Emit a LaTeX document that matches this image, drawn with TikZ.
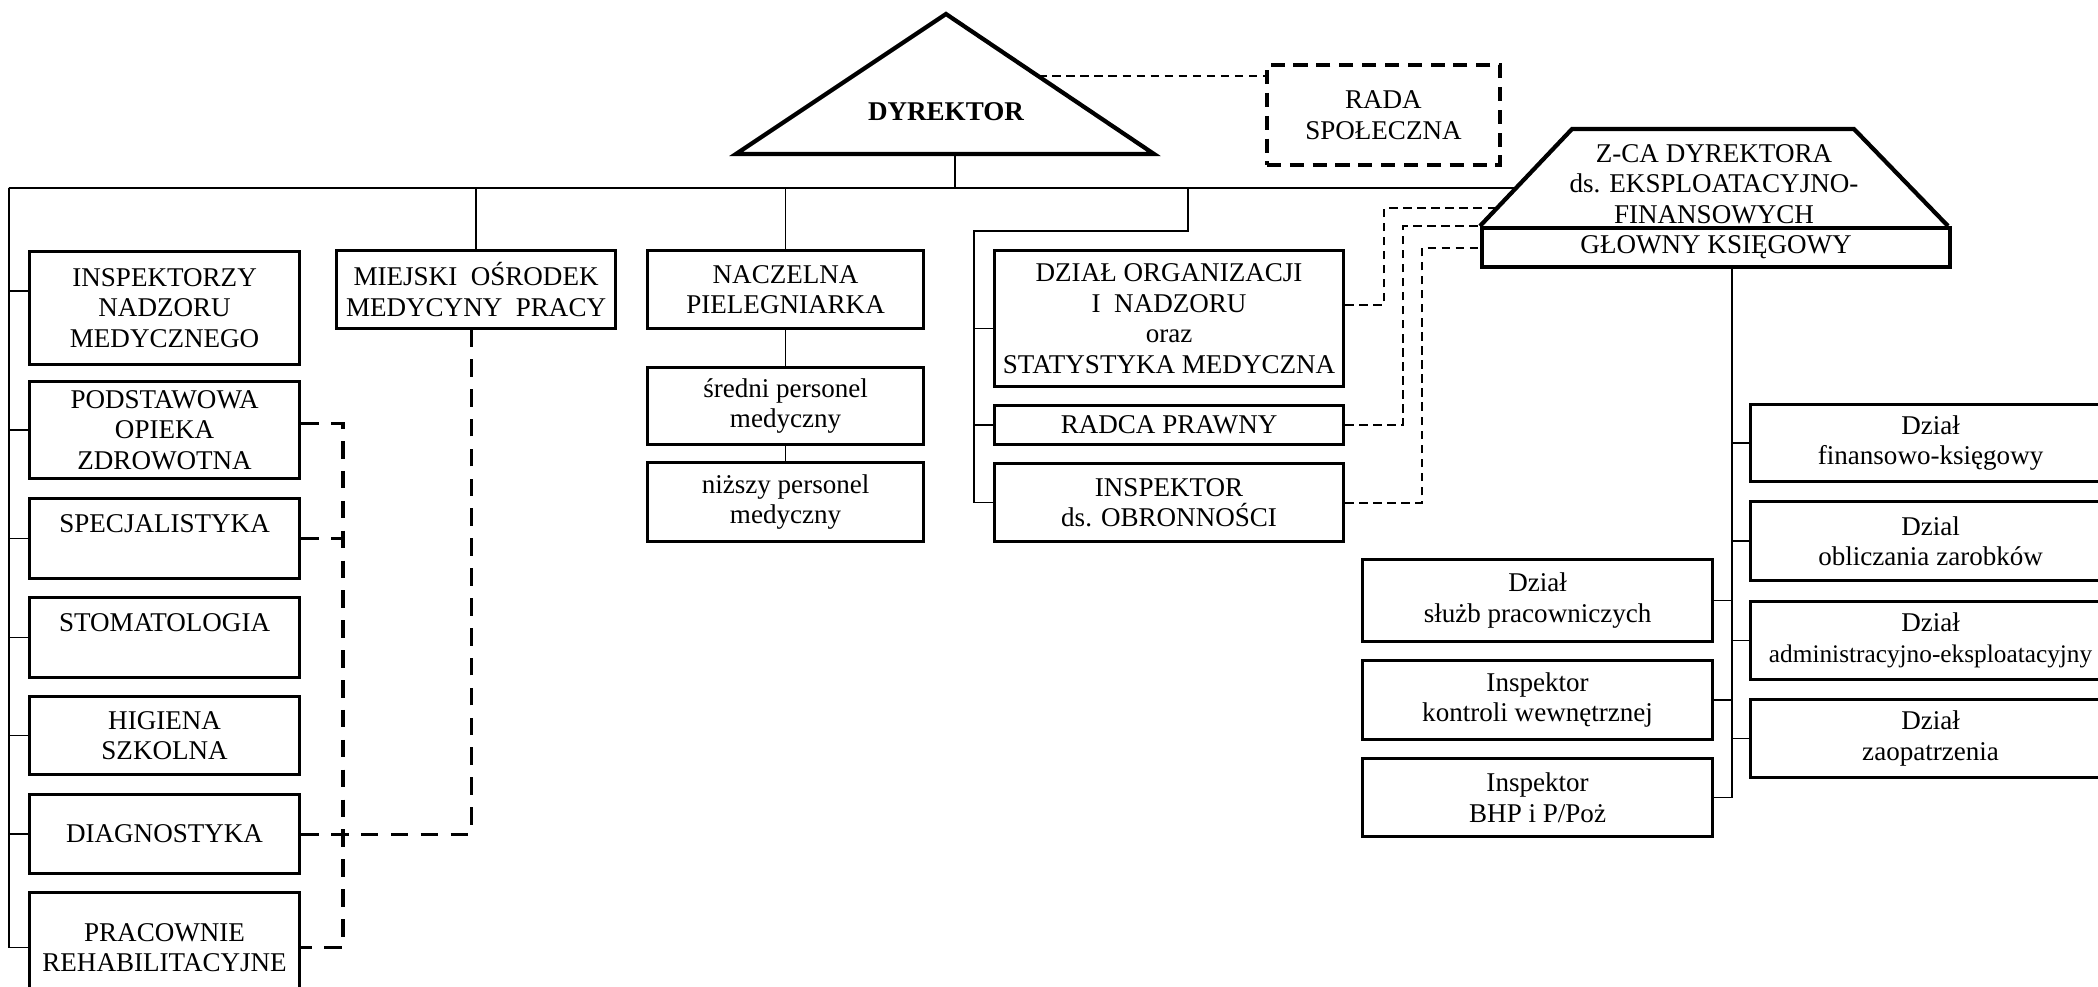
\documentclass[tikz,border=0pt]{standalone}
\usepackage{fontspec}
\setmainfont{Liberation Serif}
\usetikzlibrary{calc}

\begin{document}
\begin{tikzpicture}[
    font=\fontsize{7.7pt}{8.7pt}\selectfont,
    box/.style={draw, line width=0.9pt, align=center, anchor=north west, inner sep=1pt},
    heavy/.style={line width=1.2pt, line join=miter},
    conn/.style={line width=0.45pt},
    ldash/.style={line width=0.9pt, dash pattern=on 5pt off 3.5pt},
    rdash/.style={line width=0.6pt, dash pattern=on 2.4pt off 1.6pt},
    radabox/.style={box, line width=1.1pt, dash pattern=on 4pt off 2.5pt},
]
    \useasboundingbox (0,0) rectangle (20.98,-9.86);

    % Director
    \coordinate (dtop) at (9.46,-0.14);
    \coordinate (dleft) at (7.36,-1.54);
    \coordinate (dright) at (11.54,-1.54);
    \draw[heavy] (dtop) -- (dleft) -- (dright) -- cycle;
    \node[font=\fontsize{7.7pt}{8.7pt}\selectfont\bfseries] (dyr) at (9.46,-1.12) {DYREKTOR};
    \node[radabox, minimum width=2.33cm, minimum height=1.00cm] (rada) at (12.65,-0.63) {RADA\\SPOŁECZNA};

    % Deputy director
    \coordinate (zbl) at (14.80,-2.26);
    \coordinate (ztl) at (15.72,-1.29);
    \coordinate (ztr) at (18.54,-1.29);
    \coordinate (zbr) at (19.48,-2.26);
    \draw[heavy] (zbl) -- (ztl) -- (ztr) -- (zbr);
    \node (zca) at (17.14,-1.84) [align=center, inner sep=0pt] {Z-CA DYREKTORA\\ds. EKSPLOATACYJNO-\\FINANSOWYCH};
    \node[box, heavy, minimum width=4.68cm, minimum height=0.39cm] (glowny) at (14.80,-2.26) {GŁOWNY KSIĘGOWY};

    % Left column
    \node[box, minimum width=2.70cm, minimum height=1.13cm] (insp) at (0.28,-2.50) {INSPEKTORZY\\NADZORU\\MEDYCZNEGO};
    \node[box, minimum width=2.70cm, minimum height=0.97cm] (podst) at (0.28,-3.80) {PODSTAWOWA\\OPIEKA\\ZDROWOTNA};
    \node[box, minimum width=2.70cm, minimum height=0.80cm] (spec) at (0.28,-4.97) {SPECJALISTYKA\\\mbox{}};
    \node[box, minimum width=2.70cm, minimum height=0.80cm] (stom) at (0.28,-5.96) {STOMATOLOGIA\\\mbox{}};
    \node[box, minimum width=2.70cm, minimum height=0.78cm] (hig) at (0.28,-6.95) {HIGIENA\\SZKOLNA};
    \node[box, minimum width=2.70cm, minimum height=0.79cm] (diag) at (0.28,-7.93) {DIAGNOSTYKA};
    \node[box, minimum width=2.70cm, minimum height=1.10cm] (prac) at (0.28,-8.91) {PRACOWNIE\\REHABILITACYJNE};

    % Middle columns
    \node[box, minimum width=2.79cm, minimum height=0.78cm] (momp) at (3.35,-2.49) {MIEJSKI\ \ OŚRODEK\\MEDYCYNY\ \ PRACY};
    \node[box, minimum width=2.76cm, minimum height=0.78cm] (nacz) at (6.46,-2.49) {NACZELNA\\PIELEGNIARKA};
    \node[box, minimum width=2.76cm, minimum height=0.77cm] (sred) at (6.46,-3.66) {średni personel\\medyczny};
    \node[box, minimum width=2.76cm, minimum height=0.79cm] (nizs) at (6.46,-4.61) {niższy personel\\medyczny};
    \node[box, minimum width=3.49cm, minimum height=1.36cm] (dorg) at (9.93,-2.49) {DZIAŁ ORGANIZACJI\\I\ \ NADZORU\\oraz\\STATYSTYKA MEDYCZNA};
    \node[box, minimum width=3.49cm, minimum height=0.39cm] (radca) at (9.93,-4.04) {RADCA PRAWNY};
    \node[box, minimum width=3.49cm, minimum height=0.78cm] (obron) at (9.93,-4.62) {INSPEKTOR\\ds. OBRONNOŚCI};

    % Right group
    \node[box, minimum width=3.50cm, minimum height=0.82cm] (sluzb) at (13.61,-5.58) {Dział\\służb pracowniczych};
    \node[box, minimum width=3.50cm, minimum height=0.79cm] (kontr) at (13.61,-6.59) {Inspektor\\kontroli wewnętrznej};
    \node[box, minimum width=3.50cm, minimum height=0.78cm] (bhp) at (13.61,-7.57) {Inspektor\\BHP i P/Poż};
    \node[box, minimum width=3.60cm, minimum height=0.77cm] (fin) at (17.49,-4.03) {Dział\\finansowo-księgowy};
    \node[box, minimum width=3.60cm, minimum height=0.79cm] (obl) at (17.49,-5.00) {Dzial\\obliczania zarobków};
    \node[box, minimum width=3.60cm, minimum height=0.78cm] (adm) at (17.49,-6.00) {Dział\\{\fontsize{7.2pt}{8.7pt}\selectfont administracyjno-eksploatacyjny}};
    \node[box, minimum width=3.60cm, minimum height=0.78cm] (zaop) at (17.49,-6.98) {Dział\\zaopatrzenia};

    % Bus and solid connectors
    \coordinate (busL) at (0.09,-1.88);
    \coordinate (busR) at ($(zbl)!0.392!(ztl)$);
    \coordinate (dbase) at (9.55,-1.54);
    \draw[conn] (busL) -- (busR);
    \draw[conn] (dbase) -- (dbase |- busL);
    \draw[conn] (busL) |- (prac.west);
    \draw[conn] ([yshift=0.17cm]insp.west) -- ([yshift=0.17cm]insp.west -| busL);
    \foreach \n in {podst,spec,stom,hig,diag}
        \draw[conn] (\n.west) -- (\n.west -| busL);
    \draw[conn] (momp.north) -- (momp.north |- busL);
    \draw[conn] (nacz.north) -- (nacz.north |- busL);
    \draw[conn] (nacz.south) -- (sred.north);
    \draw[conn] (sred.south) -- (nizs.north);
    \coordinate (rb) at (11.88,-1.88);
    \coordinate (rbx) at (9.74,-2.31);
    \draw[conn] (rb) |- (rbx) |- (obron.west);
    \draw[conn] ([yshift=-0.1cm]dorg.west) -- ([yshift=-0.1cm]dorg.west -| rbx);
    \draw[conn] (radca.west) -- (radca.west -| rbx);
    \coordinate (gv) at (17.32,-2.65);
    \draw[conn] (gv) |- (bhp.east);
    \foreach \n in {fin,obl,adm,zaop}
        \draw[conn] (\n.west) -- (\n.west -| gv);
    \draw[conn] (sluzb.east) -- (sluzb.east -| gv);
    \draw[conn] (kontr.east) -- (kontr.east -| gv);

    % Dashed links
    \coordinate (dr) at ($(dtop)!0.443!(dright)$);
    \draw[rdash] (dr) -- (dr -| rada.west);
    \coordinate (lx) at (3.43,0);
    \draw[ldash] ([yshift=0.07cm]podst.east) -| (lx |- prac.east) -- (prac.east);
    \draw[ldash] (spec.east) -- (spec.east -| lx);
    \draw[ldash] (diag.east) -| ([xshift=-0.05cm]momp.south);
    \coordinate (zs) at ($(zbl)!0.186!(ztl)$);
    \draw[rdash] ([yshift=0.14cm]dorg.east) -- ++(0.39,0) |- (zs);
    \draw[rdash] (radca.east) -- ++(0.58,0) |- (glowny.north west);
    \draw[rdash] (obron.east) -- ++(0.77,0) |- (glowny.west);
\end{tikzpicture}
\end{document}
